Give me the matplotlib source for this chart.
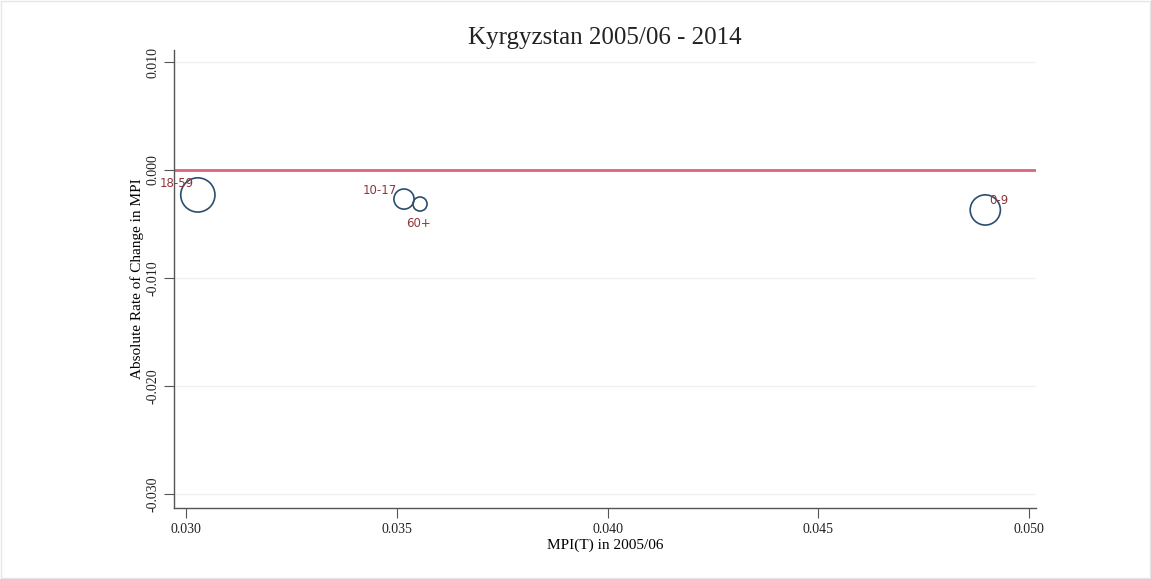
import matplotlib.pyplot as plt
import numpy as np

# data
groups = ['18-59', '10-17', '60+', '0-9']
mpi_2005 = [0.03028, 0.03517, 0.03555, 0.04896]
abs_change = [-0.00231, -0.00269, -0.00315, -0.00370]
pop_weight = [289, 100, 49, 225]   # relative marker area (population weight)

xticks = [0.030, 0.035, 0.040, 0.045, 0.050]
yticks = [0.010, 0.000, -0.010, -0.020, -0.030]

# label offsets in points (Stata-style marker label positions)
label_offsets = {'18-59': (-3, 8), '10-17': (-5, 6), '60+': (-1, -14), '0-9': (3, 7)}
label_ha = {'18-59': 'right', '10-17': 'right', '60+': 'center', '0-9': 'left'}

plt.rcParams['font.family'] = ['Liberation Serif', 'DejaVu Serif']

fig = plt.figure(figsize=(11.51, 5.79), dpi=100)
ax = fig.add_axes([0.1512, 0.1226, 0.7490, 0.7910])

for y in yticks:
    ax.axhline(y, color='#eef2f4', lw=1, zorder=0)

ax.axhline(0, color='#d9667a', lw=2, zorder=1)

sizes = np.array(pop_weight) * 2.1
ax.scatter(mpi_2005, abs_change, s=sizes, facecolors='none', edgecolors='#2b4d6e',
           linewidths=1.2, zorder=3)

for g, x, y in zip(groups, mpi_2005, abs_change):
    ax.annotate(g, (x, y), xytext=label_offsets[g], textcoords='offset points',
                ha=label_ha[g], va='center', fontsize=8.5, color='#90353b', zorder=4,
                family=['DejaVu Sans'])

ax.set_xlim(0.029715, 0.050166)
ax.set_ylim(-0.03130, 0.01111)
ax.set_xticks(xticks)
ax.set_xticklabels(['%.3f' % v for v in xticks])
ax.set_yticks(yticks)
ax.set_yticklabels(['%.3f' % v for v in yticks], rotation=90, va='center')

for s in ['top', 'right']:
    ax.spines[s].set_visible(False)
for s in ['left', 'bottom']:
    ax.spines[s].set_color('#555555')
    ax.spines[s].set_linewidth(1)
ax.tick_params(axis='both', length=7, color='#555555', labelsize=10, labelcolor='#222222')

ax.set_xlabel('MPI(T) in 2005/06', fontsize=11, labelpad=2)
ax.set_ylabel('Absolute Rate of Change in MPI', fontsize=11, labelpad=2)
ax.set_title('Kyrgyzstan 2005/06 - 2014', fontsize=18, pad=4, color='#222222')

# thin border round the figure
fig.patches.append(plt.Rectangle((0.001, 0.001), 0.998, 0.998, transform=fig.transFigure,
                                 fill=False, edgecolor='#e6e6e6', lw=1))

plt.savefig('out.png', dpi=100)
